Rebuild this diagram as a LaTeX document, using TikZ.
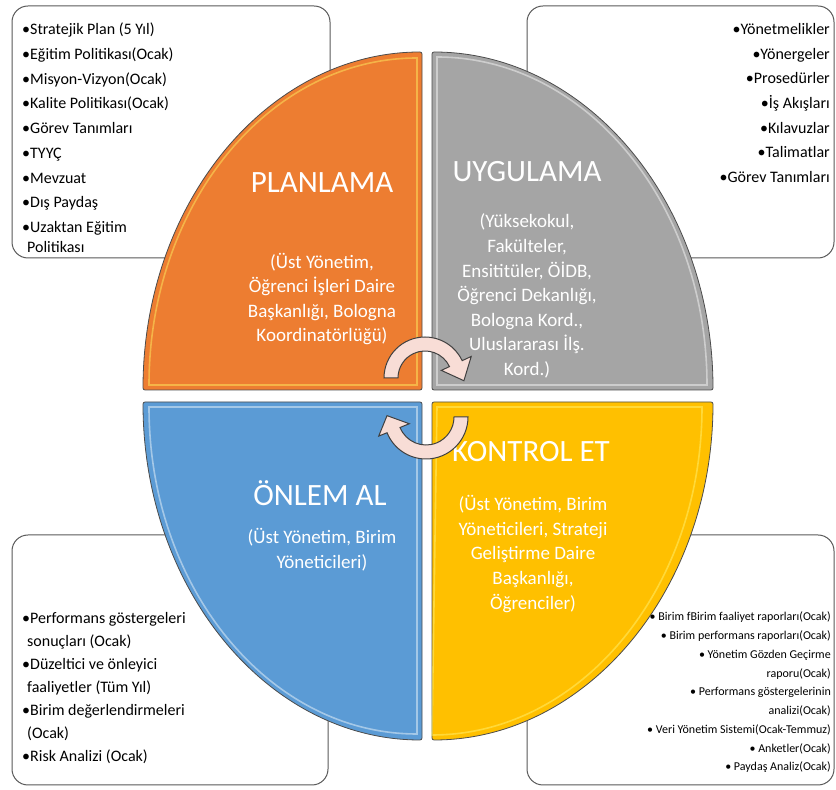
\documentclass[tikz,border=0pt]{standalone}
\usepackage{fontspec}
\setmainfont{Carlito}
\usepackage{tikz}
\usetikzlibrary{positioning, calc}

\definecolor{planorange}{HTML}{ED7D31}
\definecolor{applygray}{HTML}{A5A5A5}
\definecolor{actblue}{HTML}{5B9BD5}
\definecolor{checkyellow}{HTML}{FFC000}
\definecolor{turnpink}{HTML}{F8DDD6}

\begin{document}
\begin{tikzpicture}[
    x=1pt, y=1pt,
    infobox/.style={draw=black!65, fill=white, line width=1pt, rounded corners=16pt},
    quarter/.style={draw=black!70, line width=0.8pt, rounded corners=2pt},
    gloss/.style={line width=1.6pt, opacity=0.45},
    boxtext/.style={inner sep=0pt, font=\fontsize{16}{24.7}\selectfont},
    smalltext/.style={inner sep=0pt, align=right, font=\fontsize{12}{18.75}\selectfont},
    title/.style={inner sep=0pt, text=white, font=\fontsize{31}{36}\selectfont},
    subtitle/.style={inner sep=0pt, text=white, align=center, font=\fontsize{19}{24.6}\selectfont},
    turnarrow/.style={draw=black!75, line width=1pt, fill=turnpink}
]

    \useasboundingbox (0,0) rectangle (836,790);

    % === Info boxes ===
    \draw[infobox] (12,532) rectangle (330,784);
    \draw[infobox] (527,532) rectangle (834,784);
    \draw[infobox] (12,5) rectangle (328,255);
    \draw[infobox] (527,5) rectangle (834,255);

    % === Quarters ===
    % Planlama
    \draw[quarter, fill=planorange] (422,400) -- (143,400)
        arc[start angle=180, end angle=90, x radius=279, y radius=338] -- cycle;
    \draw[gloss, yellow!60] (417,405) -- (149,405)
        arc[start angle=180, end angle=90, x radius=268, y radius=327] -- cycle;
    % Uygulama
    \draw[quarter, fill=applygray] (432,400) -- (432,738)
        arc[start angle=90, end angle=0, x radius=281, y radius=338] -- cycle;
    \draw[gloss, white] (437,405) -- (437,733)
        arc[start angle=90, end angle=0, x radius=270, y radius=328] -- cycle;
    % Onlem al
    \draw[quarter, fill=actblue] (422,388) -- (143,388)
        arc[start angle=180, end angle=270, x radius=279, y radius=338] -- cycle;
    \draw[gloss, white] (417,383) -- (149,383)
        arc[start angle=180, end angle=270, x radius=268, y radius=327] -- cycle;
    % Kontrol et
    \draw[quarter, fill=checkyellow] (432,388) -- (713,388)
        arc[start angle=0, end angle=-90, x radius=281, y radius=338] -- cycle;
    \draw[gloss, yellow!50] (437,383) -- (702,383)
        arc[start angle=0, end angle=-90, x radius=270, y radius=328] -- cycle;

    % === Box texts ===
    \node[boxtext, anchor=north west, align=left] (plantext) at (22,767)
        {•Stratejik Plan (5 Yıl)\\ •Eğitim Politikası(Ocak)\\ •Misyon-Vizyon(Ocak)\\
         •Kalite Politikası(Ocak)\\ •Görev Tanımları\\ •TYYÇ\\ •Mevzuat\\ •Dış Paydaş\\
         •Uzaktan Eğitim\\[-4.5pt] \hspace*{5pt}Politikası};
    \node[boxtext, anchor=north east, align=right] (applytext) at (830,767)
        {•Yönetmelikler\\ •Yönergeler\\ •Prosedürler\\ •İş Akışları\\ •Kılavuzlar\\
         •Talimatlar\\ •Görev Tanımları};
    \node[boxtext, anchor=north west, align=left,
          font=\fontsize{16}{23}\selectfont] (acttext) at (22,178)
        {•Performans göstergeleri\\ \hspace*{5pt}sonuçları (Ocak)\\ •Düzeltici ve önleyici\\
         \hspace*{5pt}faaliyetler (Tüm Yıl)\\ •Birim değerlendirmeleri\\ \hspace*{5pt}(Ocak)\\
         •Risk Analizi (Ocak)};
    \node[smalltext, anchor=north east] (checktext) at (831,178)
        {• Birim fBirim faaliyet raporları(Ocak)\\ • Birim performans raporları(Ocak)\\
         • Yönetim Gözden Geçirme\\ raporu(Ocak)\\ • Performans göstergelerinin\\
         analizi(Ocak)\\ • Veri Yönetim Sistemi(Ocak-Temmuz)\\ • Anketler(Ocak)\\
         • Paydaş Analiz(Ocak)};

    % === Quarter labels ===
    \node[title] (plan) at (322,607) {PLANLAMA};
    \node[subtitle] (plansub) at (322,491)
        {(Üst Yönetim,\\ Öğrenci İşleri Daire\\ Başkanlığı, Bologna\\ Koordinatörlüğü)};

    \node[title] (apply) at (527,618) {UYGULAMA};
    \begin{scope}
        \clip (432,410) rectangle (713,738);
        \node[subtitle] (applysub) at (527,494)
            {(Yüksekokul,\\ Fakülteler,\\ Ensititüler, ÖİDB,\\ Öğrenci Dekanlığı,\\
             Bologna Kord.,\\ Uluslararası İlş.\\ Kord.)};
    \end{scope}

    \node[title] (act) at (320,297) {ÖNLEM AL};
    \node[subtitle] (actsub) at (322,240) {(Üst Yönetim, Birim\\ Yöneticileri)};

    \node[title] (check) at (531,338) {KONTROL ET};
    \node[subtitle] (checksub) at (533,236)
        {(Üst Yönetim, Birim\\ Yöneticileri, Strateji\\ Geliştirme Daire\\ Başkanlığı,\\ Öğrenciler)};

    % === Cycle arrows ===
    \coordinate (topturn) at (425,412);
    \coordinate (botturn) at (426,373);

    \draw[turnarrow] ($(topturn)+(180:41)$) arc[start angle=180, end angle=25, radius=41]
        -- ($(topturn)+(25:51)$) -- ($(topturn)+(-4:39)$) -- ($(topturn)+(25:18)$)
        -- ($(topturn)+(25:27)$) arc[start angle=25, end angle=180, radius=27] -- cycle;

    \draw[turnarrow] ($(botturn)+(0:42)$) arc[start angle=0, end angle=-158, radius=42]
        -- ($(botturn)+(202:51)$) -- ($(botturn)+(178:39)$) -- ($(botturn)+(202:18)$)
        -- ($(botturn)+(202:28)$) arc[start angle=-158, end angle=0, radius=28] -- cycle;

\end{tikzpicture}
\end{document}
